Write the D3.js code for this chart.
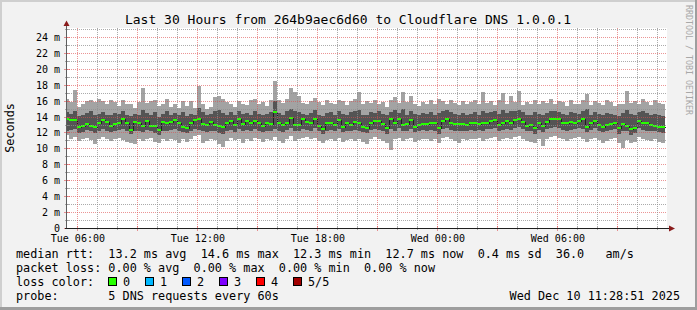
<!DOCTYPE html>
<html><head><meta charset="utf-8">
<script src="https://cdn.jsdelivr.net/npm/d3@7"></script>
<style>
html,body{margin:0;padding:0;background:#f2f2f2;}
svg{display:block;}
text{font-family:"DejaVu Sans Mono",monospace;}
</style>
</head><body>
<svg id="c" width="697" height="310"></svg>
<script>
// ---------------- data ----------------
const title = "Last 30 Hours from 264b9aec6d60 to Cloudflare DNS 1.0.0.1";
const yLabel = "Seconds";
const credit = "RRDTOOL / TOBI OETIKER";
const rangeStart = "2025-12-09T05:28:51Z";
const rangeEnd = "2025-12-10T11:28:51Z";
const firstBarStart = "2025-12-09T05:24:00Z";
const barStepMinutes = 12;
const yTicks = [0,2,4,6,8,10,12,14,16,18,20,22,24];

// five sorted ping quantiles per 12-minute step, in ms
const pingMax = [
16.3,15.9,17.4,15.3,15.7,16.0,16.1,15.9,16.3,16.0,
15.6,16.2,15.9,15.4,16.2,15.7,15.6,15.2,15.9,17.7,
15.8,16.0,16.1,15.4,15.6,16.3,15.3,15.6,15.2,16.0,
15.4,16.0,15.1,17.9,15.6,15.0,15.3,16.5,16.6,16.3,
15.9,15.6,15.3,16.0,15.7,15.5,16.1,16.3,15.6,15.9,
15.4,16.1,18.5,16.2,15.8,16.3,17.7,17.2,16.6,15.8,
15.7,16.0,16.4,15.9,15.5,16.1,15.8,15.6,16.2,16.0,
15.5,16.0,16.3,17.1,15.7,16.0,15.8,16.1,15.6,15.9,
15.3,16.2,16.5,15.8,17.1,15.9,16.6,15.7,15.4,15.9,
15.6,16.2,15.7,16.3,16.0,15.6,16.1,15.8,15.5,16.0,
15.7,15.9,16.2,15.6,17.1,15.8,16.0,15.5,16.1,17.0,
15.6,16.6,15.9,17.3,15.5,15.9,15.6,16.2,15.7,16.0,
15.8,16.3,15.6,16.0,15.9,15.4,16.2,15.7,15.6,16.1,
16.9,15.5,16.0,15.8,15.5,16.2,15.9,15.4,15.7,15.6,
17.3,15.8,16.0,15.6,16.3,15.9,15.5,16.1,15.8,15.6];
const pingHigh = [
14.6,14.4,14.7,14.1,14.3,14.5,14.8,14.2,14.4,14.6,
14.3,14.2,14.5,14.4,14.7,14.3,14.1,14.4,14.2,14.9,
14.5,14.3,14.6,14.0,14.4,14.8,14.2,14.5,14.3,14.6,
14.1,14.4,14.3,15.2,14.6,14.2,14.4,14.7,14.9,14.5,
14.3,14.6,14.2,14.8,14.4,14.5,14.3,14.7,14.4,14.2,
14.4,14.6,16.0,14.5,14.3,14.7,15.0,14.8,14.6,14.4,
14.3,14.5,14.9,14.2,14.1,14.5,14.6,14.3,14.7,14.4,
14.3,14.6,14.8,14.9,14.2,14.3,14.6,14.5,14.7,14.4,
14.2,14.6,14.9,14.5,15.0,14.3,14.8,14.4,14.2,14.5,
14.4,14.6,14.3,14.5,14.7,14.9,14.6,14.4,14.2,14.5,
14.3,14.4,14.6,14.3,14.8,14.5,14.6,14.7,14.4,14.9,
14.5,14.8,14.7,14.9,14.6,14.3,14.2,14.6,14.4,14.3,
14.5,14.8,14.7,14.6,14.4,14.3,14.6,14.5,14.4,14.8,
15.0,14.3,14.6,14.4,14.2,14.5,14.4,14.3,14.1,14.5,
14.9,14.4,14.2,14.6,14.7,14.5,14.3,14.4,14.2,14.1];
const pingMedian = [
13.7,13.6,13.6,12.8,12.9,13.1,12.9,12.8,13.3,13.6,
13.4,12.9,13.1,13.2,13.7,13.2,12.4,13.4,13.3,12.9,
13.5,12.9,12.9,12.4,13.4,13.3,13.4,13.6,13.3,12.8,
12.6,13.2,13.6,13.7,13.1,13.0,13.4,13.0,12.9,12.8,
13.2,13.55,13.05,13.7,13.1,13.55,13.3,13.55,13.3,12.9,
13.2,13.1,14.6,13.2,13.05,13.3,13.9,13.05,13.05,13.7,
13.4,13.2,13.8,12.9,12.5,13.2,13.3,13.05,13.6,12.8,
13.3,13.05,13.4,13.2,12.8,12.65,13.3,13.55,13.55,13.1,
12.6,13.7,13.3,13.7,13.0,13.1,13.6,12.8,13.0,13.15,
13.1,13.2,13.25,12.6,13.5,13.8,13.3,13.15,13.1,13.15,
13.0,13.25,13.2,13.15,13.2,13.25,13.45,13.6,13.0,13.3,
13.45,13.3,13.6,13.7,13.4,12.9,13.0,12.65,13.2,12.9,
13.4,13.7,13.7,13.7,13.3,13.3,13.35,13.2,13.55,13.7,
12.8,13.3,13.55,13.05,12.8,12.95,13.1,13.3,12.6,13.1,
12.9,12.45,12.65,13.55,13.3,13.2,12.95,12.9,12.8,12.7];
const pingLow = [
12.2,12.4,12.5,12.0,12.1,12.4,12.2,12.0,12.3,12.5,
12.3,12.1,12.2,12.4,12.5,12.3,11.9,12.2,12.3,12.1,
12.4,12.2,12.0,11.8,12.3,12.2,12.4,12.5,12.2,12.1,
12.0,12.3,12.5,12.4,12.2,12.1,12.3,12.2,12.0,11.9,
12.2,12.4,12.1,12.5,12.3,12.4,12.2,12.5,12.3,12.1,
12.3,12.2,12.5,12.3,12.1,12.4,12.6,12.2,12.3,12.5,
12.4,12.3,12.6,12.2,11.9,12.3,12.4,12.2,12.5,12.1,
12.3,12.2,12.4,12.3,12.1,12.0,12.4,12.5,12.4,12.2,
11.9,12.5,12.3,12.6,12.2,12.3,12.5,12.1,12.2,12.4,
12.3,12.4,12.3,11.9,12.5,12.6,12.4,12.3,12.2,12.3,
12.2,12.4,12.3,12.4,12.3,12.5,12.5,12.6,12.2,12.4,
12.5,12.4,12.6,12.7,12.5,12.3,12.2,11.9,12.4,12.1,
12.5,12.6,12.7,12.6,12.4,12.3,12.4,12.5,12.6,12.5,
12.1,12.4,12.6,12.3,12.1,12.2,12.4,12.5,11.9,12.2,
12.3,11.8,12.0,12.6,12.4,12.3,12.2,12.3,12.1,12.0];
const pingMin = [
11.7,11.2,11.5,11.0,11.3,11.4,11.1,10.6,11.2,11.5,
11.3,11.0,11.2,11.4,11.1,10.9,10.7,10.6,11.3,11.0,
11.2,11.4,10.9,10.8,11.2,11.0,11.3,11.1,10.7,11.2,
10.9,11.3,11.6,11.7,10.8,11.0,11.2,11.1,10.6,10.2,
11.0,11.4,11.1,11.3,10.8,11.2,11.0,11.4,11.2,10.9,
11.3,11.1,11.5,11.0,10.7,11.3,11.6,11.0,11.2,11.4,
11.5,11.2,11.4,11.0,10.8,11.1,11.3,11.0,11.4,10.9,
11.1,11.3,11.0,11.2,10.9,10.6,11.3,11.5,11.2,11.0,
10.8,9.8,11.2,11.4,11.0,11.2,11.4,10.9,11.1,11.3,
11.2,11.0,11.3,10.7,11.4,11.5,11.3,11.0,10.8,11.2,
11.1,11.3,11.2,11.4,11.0,11.3,11.4,11.5,11.0,11.2,
11.4,11.2,11.5,11.6,11.3,11.0,10.9,10.8,11.2,10.4,
11.3,11.5,11.6,11.4,11.2,11.0,11.3,11.4,11.5,11.3,
10.9,11.2,11.4,11.1,10.8,11.0,11.3,11.4,10.7,10.1,
11.1,10.7,10.9,11.5,11.2,11.1,11.0,11.2,10.9,10.8];

const legendLines = [
  "median rtt:  13.2 ms avg  14.6 ms max  12.3 ms min  12.7 ms now  0.4 ms sd  36.0   am/s",
  "packet loss: 0.00 % avg  0.00 % max  0.00 % min  0.00 % now",
  "loss color:",
  "probe:       5 DNS requests every 60s"
];
const lossLabels = ["0","1","2","3","4","5/5"];
const lossColors = ["#26ff00","#00b8ff","#0059ff","#7e00ff","#ff0000","#a10000"];
const stamp = "Wed Dec 10 11:28:51 2025";

// ---------------- drawing ----------------
const W = 697, H = 310;
const svg = d3.select("#c");
const L = 67, R = 667, B = 228, T = 28;

// frame
svg.append("rect").attr("x",0).attr("y",0).attr("width",W).attr("height",H).attr("fill","#f2f2f2");
svg.append("rect").attr("x",0).attr("y",0).attr("width",W).attr("height",2).attr("fill","#cfcfcf");
svg.append("rect").attr("x",0).attr("y",0).attr("width",2).attr("height",H).attr("fill","#cfcfcf");
svg.append("rect").attr("x",0).attr("y",H-3).attr("width",W).attr("height",3).attr("fill","#9e9e9e");
svg.append("rect").attr("x",W-2).attr("y",0).attr("width",2).attr("height",H).attr("fill","#9e9e9e");

const t0 = new Date(rangeStart), t1 = new Date(rangeEnd);
const x = d3.scaleUtc().domain([t0, t1]).range([L, R]);
const y = d3.scaleLinear().domain([0, 25]).range([228.5, 29.5]);
const crisp = v => Math.floor(v) + 0.5;

// canvas
svg.append("rect").attr("x",L).attr("y",T).attr("width",R-L).attr("height",B-T).attr("fill","#ffffff");

// data
const barStart0 = new Date(firstBarStart);
const bars = pingMedian.map((m,i) => ({
  t: d3.utcMinute.offset(barStart0, i*barStepMinutes),
  t2: d3.utcMinute.offset(barStart0, (i+1)*barStepMinutes),
  max: pingMax[i], hi: pingHigh[i], med: m, lo: pingLow[i], min: pingMin[i]
}));
const px = t => Math.round(Math.max(L, Math.min(R, x(t))));
const g = svg.append("g").attr("shape-rendering","crispEdges");
g.selectAll("rect.light").data(bars).join("rect").attr("class","light")
  .attr("x", d => px(d.t)).attr("width", d => px(d.t2) - px(d.t))
  .attr("y", d => Math.round(y(d.max))).attr("height", d => Math.round(y(d.min)) - Math.round(y(d.max)))
  .attr("fill","#a3a3a3");
g.selectAll("rect.dark").data(bars).join("rect").attr("class","dark")
  .attr("x", d => px(d.t)).attr("width", d => px(d.t2) - px(d.t))
  .attr("y", d => Math.round(y(d.hi))).attr("height", d => Math.round(y(d.lo)) - Math.round(y(d.hi)))
  .attr("fill","#545454");

// median step line (dark) + green loss-colour segments
const stepLine = d3.line().curve(d3.curveStepAfter)
  .x(d => px(d.t) + 0.5).y(d => Math.round(y(d.med)) + 0.5);
const medPts = bars.concat([{t: bars[bars.length-1].t2, med: bars[bars.length-1].med}]);
g.append("path").attr("d", stepLine(medPts)).attr("fill","none")
  .attr("stroke","#202020").attr("stroke-width",1);
g.selectAll("rect.med").data(bars).join("rect").attr("class","med")
  .attr("x", d => px(d.t)).attr("width", d => px(d.t2) - px(d.t))
  .attr("y", d => Math.round(y(d.med)) - 1).attr("height", 2)
  .attr("fill", lossColors[0]);

// grid (drawn on top, like rrdtool)
const gridCol = "rgba(143,143,143,0.75)";
const mgridCol = "rgba(222,79,79,0.6)";
const grid = svg.append("g");
const minorY = d3.range(1, 26, 2);
grid.selectAll("line.ymin").data(minorY).join("line")
  .attr("x1", L).attr("x2", R).attr("y1", d => crisp(y(d))).attr("y2", d => crisp(y(d)))
  .attr("stroke",gridCol).attr("stroke-dasharray","1,1");
grid.selectAll("line.ymaj").data(yTicks.filter(v => v > 0)).join("line")
  .attr("x1", L).attr("x2", R).attr("y1", d => crisp(y(d))).attr("y2", d => crisp(y(d)))
  .attr("stroke",mgridCol).attr("stroke-dasharray","1,1");
const hours = d3.utcHour.range(t0, t1);
const minorX = hours.filter(h => h.getUTCHours() % 3 !== 0);
const majorX = hours.filter(h => h.getUTCHours() % 3 === 0);
grid.selectAll("line.xmin").data(minorX).join("line")
  .attr("x1", d => crisp(x(d))).attr("x2", d => crisp(x(d))).attr("y1", T).attr("y2", B)
  .attr("stroke",gridCol).attr("stroke-dasharray","1,1");
grid.selectAll("line.xmaj").data(majorX).join("line")
  .attr("x1", d => crisp(x(d))).attr("x2", d => crisp(x(d))).attr("y1", T).attr("y2", B)
  .attr("stroke",mgridCol).attr("stroke-dasharray","1,1");

// tick marks
grid.selectAll("line.xtmin").data(minorX).join("line")
  .attr("x1", d => crisp(x(d))).attr("x2", d => crisp(x(d))).attr("y1", B-1).attr("y2", B+2)
  .attr("stroke",gridCol);
grid.selectAll("line.xtmaj").data(majorX).join("line")
  .attr("x1", d => crisp(x(d))).attr("x2", d => crisp(x(d))).attr("y1", B-2).attr("y2", B+3)
  .attr("stroke",mgridCol);
grid.selectAll("line.ytmin").data(minorY).join("line")
  .attr("x1", L-2).attr("x2", L+2).attr("y1", d => crisp(y(d))).attr("y2", d => crisp(y(d)))
  .attr("stroke",gridCol);
grid.selectAll("line.ytmaj").data(yTicks).join("line")
  .attr("x1", L-3).attr("x2", L+3).attr("y1", d => crisp(y(d))).attr("y2", d => crisp(y(d)))
  .attr("stroke",mgridCol);

// axes
svg.append("line").attr("x1", L-0.5).attr("x2", L-0.5).attr("y1", B+1).attr("y2", 24)
  .attr("stroke","#5e5e5e").attr("stroke-width",1);
svg.append("line").attr("x1", L-2).attr("x2", 670).attr("y1", B+0.5).attr("y2", B+0.5)
  .attr("stroke","#1f1f1f");
svg.append("path").attr("d", `M${L-3.5},26 L${L+2.5},26 L${L-0.5},20.5 Z`).attr("fill","#8a1c1c");
svg.append("path").attr("d", `M669,${B-2.5} L669,${B+3.5} L675,${B+0.5} Z`).attr("fill","#8a1c1c");

// y labels
svg.append("g").selectAll("text").data(yTicks).join("text")
  .attr("x", 60).attr("y", d => y(d) + 3.5).attr("text-anchor","end")
  .attr("font-size","10px").attr("fill","#000")
  .text(d => d === 0 ? "0" : d + " m");

// x labels
const labelTimes = hours.filter(h => h.getUTCHours() % 6 === 0);
const fmt = d3.utcFormat("%a %H:%M");
svg.append("g").selectAll("text").data(labelTimes).join("text")
  .attr("x", d => x(d) + 0.5).attr("y", 241.5).attr("text-anchor","middle")
  .attr("font-size","10px").attr("fill","#000").text(d => fmt(d));

// title
svg.append("text").attr("x", 348).attr("y", 24).attr("text-anchor","middle")
  .attr("font-size","13px").attr("fill","#000").text(title);

// y axis title
svg.append("text").attr("transform","translate(14,128) rotate(-90)").attr("text-anchor","middle")
  .attr("font-size","11.8px").attr("fill","#000").text(yLabel);

// credit
svg.append("text").attr("transform","translate(685.5,5) rotate(90)").attr("text-anchor","start")
  .attr("font-size","8.3px").attr("fill","#a8a8a8").text(credit);

// legend
const legendY = [258, 272, 286, 299.5];
legendLines.forEach((s,i) => {
  svg.append("text").attr("x", 16).attr("y", legendY[i]).attr("xml:space","preserve")
    .style("white-space","pre").attr("font-size","11.8px").attr("fill","#000").text(s);
});
const lg = svg.append("g");
lossLabels.forEach((lab,i) => {
  const bx = 108.5 + i*37;
  lg.append("rect").attr("x", bx).attr("y", 277.5).attr("width", 8).attr("height", 8)
    .attr("fill", lossColors[i]).attr("stroke","#000").attr("stroke-width",1);
  lg.append("text").attr("x", bx + 14.5).attr("y", 286).attr("font-size","11.8px")
    .attr("fill","#000").text(lab);
});
svg.append("text").attr("x", 680).attr("y", 299.5).attr("text-anchor","end")
  .attr("font-size","11.8px").attr("fill","#000").text(stamp);
</script>
</body></html>
